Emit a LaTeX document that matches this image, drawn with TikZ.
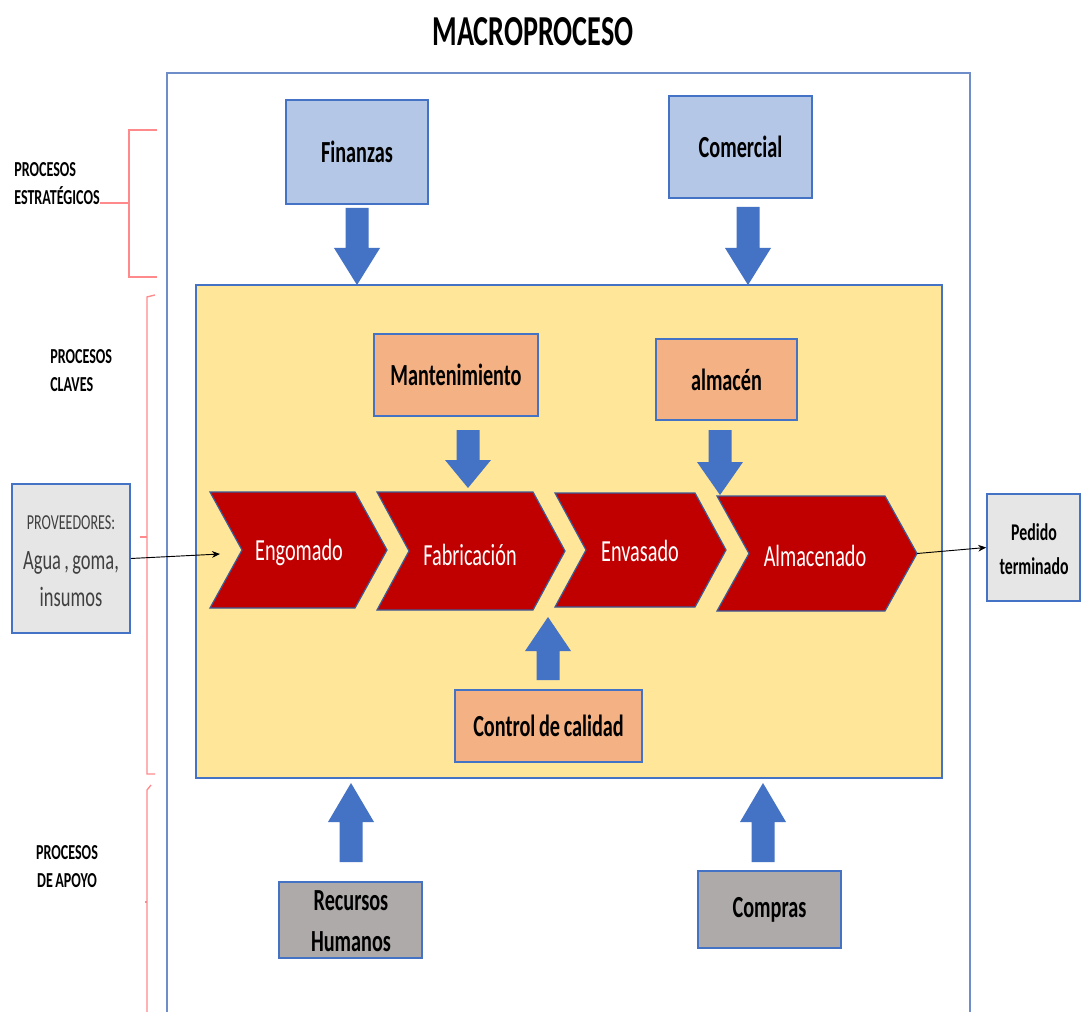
\documentclass[tikz,border=0pt]{standalone}
\usepackage{fontspec}
\setmainfont{Carlito}[FakeStretch=0.66, WordSpace=0.8]
\usetikzlibrary{fit,arrows.meta}

\definecolor{ablue}{HTML}{4472C4}
\definecolor{frameblue}{HTML}{6F8DC9}
\definecolor{lightblue}{HTML}{B4C7E7}
\definecolor{paleyellow}{HTML}{FFE699}
\definecolor{peach}{HTML}{F4B183}
\definecolor{chevred}{HTML}{C00000}
\definecolor{chevedge}{HTML}{3A5C9A}
\definecolor{midgray}{HTML}{AEAAAA}
\definecolor{lightgray}{HTML}{E7E6E6}
\definecolor{bracketred}{HTML}{FF8A8C}
\definecolor{darktext}{HTML}{404040}

% block arrow: centre x, tail y, head base y, tip y
\newcommand\blkarrow[4]{%
  \fill[blk] ({#1-11.5},#2) -- ({#1+11.5},#2) -- ({#1+11.5},#3) -- ({#1+23},#3)
    -- (#1,#4) -- ({#1-23},#3) -- ({#1-11.5},#3) -- cycle;}
% chevron: left x, corner x, tip x, top y, bottom y
\newcommand\chevshape[5]{%
  \draw[chev] (#1,#4) -- (#2,#4) -- (#3,{(#4+#5)/2}) -- (#2,#5) -- (#1,#5)
    -- ({#1+#3-#2},{(#4+#5)/2}) -- cycle;}

\begin{document}
\begin{tikzpicture}[x=0.75pt,y=-0.75pt,
  box/.style={draw=ablue, line width=1.2pt, inner sep=0pt},
  blk/.style={fill=ablue},
  chev/.style={fill=chevred, draw=chevedge, line width=0.9pt, line join=miter},
  boldlbl/.style={font=\fontsize{23}{31}\selectfont\bfseries, align=center},
  chevlbl/.style={font=\fontsize{23}{31}\selectfont, text=white},
  sidelbl/.style={font=\fontsize{16}{21}\selectfont\bfseries, align=left, inner sep=0pt},
  brk/.style={draw=bracketred, line width=1pt},
  conn/.style={draw=black, line width=0.7pt, -{Stealth[length=6pt,width=5pt]}}]

\useasboundingbox (0,0) rectangle (1081,1012);
\fill[white] (0,0) rectangle (1081,1012);

% title
\node[font=\fontsize{32}{38}\selectfont\bfseries] (title) at (533,32) {MACROPROCESO};

% outer frame, open at the bottom
\draw[frameblue, line width=1.3pt] (167,1012) -- (167,73) -- (970,73) -- (970,1012);

% side brackets
\draw[brk] (157,130) -- (129,130) -- (129,277) -- (157,277);
\draw[brk] (100,203) -- (129,203);
\draw[brk] (155,295) -- (147,297) -- (147,774) -- (155,774);
\draw[brk] (140,537) -- (147,537);
\draw[brk] (151,785) -- (147,790) -- (147,1012);
\draw[brk] (145,902) -- (147,902);

% side labels
\node[sidelbl, anchor=west] (lblest) at (14,184) {PROCESOS\\ESTRATÉGICOS};
\node[sidelbl, anchor=west] (lblcla) at (50,371) {PROCESOS\\CLAVES};
\node[sidelbl, align=center] (lblapo) at (67,867) {PROCESOS\\ DE APOYO};

% strategic processes
\node[box, fill=lightblue, fit={(286,100)(428,204)}] (fin) {};
\node[boldlbl] (fint) at (fin.center) {Finanzas};
\node[box, fill=lightblue, fit={(669,96)(812,198)}] (com) {};
\node[boldlbl] (comt) at (com.center) {Comercial};

% key processes area
\node[box, fill=paleyellow, fit={(196,285)(942,778)}] (core) {};

\blkarrow{357}{208}{248}{285}
\blkarrow{748}{207}{248}{285}

\node[box, fill=peach, fit={(374,334)(538,416)}] (mant) {};
\node[boldlbl] (mantt) at (mant.center) {Mantenimiento};
\node[box, fill=peach, fit={(656,339)(797,420)}] (almc) {};
\node[boldlbl] (almct) at (almc.center) {almacén};
\node[box, fill=peach, fit={(455,690)(642,762)}] (ctrl) {};
\node[boldlbl] (ctrlt) at (ctrl.center) {Control de calidad};

% process chain
\chevshape{377}{533}{565}{492}{610}
\chevshape{210}{355}{387}{492}{608}
\chevshape{555}{695}{726}{493}{607}
\chevshape{717}{885}{917}{496}{611}

\blkarrow{468}{430}{460}{488}
\blkarrow{720}{430}{462}{495}
\blkarrow{548}{680}{651}{617}

\node[chevlbl] (eng) at (299,552) {Engomado};
\node[chevlbl] (fab) at (470,555) {Fabricación};
\node[chevlbl] (env) at (640,551) {Envasado};
\node[chevlbl] (alm) at (815,556) {Almacenado};

% support processes
\blkarrow{351}{862}{822}{783}
\blkarrow{763}{862}{822}{783}
\node[box, fill=midgray, fit={(279,882)(422,958)}] (rrhh) {};
\node[font=\fontsize{23}{31}\selectfont\bfseries, align=center] (rrhht) at (351,921) {Recursos\\Humanos};
\node[box, fill=midgray, fit={(698,871)(841,948)}] (comp) {};
\node[boldlbl] (compt) at (comp.center) {Compras};

% inputs and outputs
\node[box, fill=lightgray, fit={(12,484)(130,633)}] (prov) {};
\node[font=\fontsize{16}{20}\selectfont, text=darktext] (provt) at (71,523) {PROVEEDORES:};
\node[font=\fontsize{21}{28}\selectfont, text=darktext, align=center] (provi) at (71,579) {Agua , goma,\\insumos};

\node[box, fill=lightgray, fit={(987,494)(1080,601)}] (ped) {};
\node[font=\fontsize{18}{25.5}\selectfont\bfseries, align=center] (pedt) at (1034,549) {Pedido\\terminado};

\coordinate (engin) at (220,554);
\coordinate (almout) at (917,553.5);
\draw[conn] (prov.east) -- (engin);
\draw[conn] (almout) -- (ped.west);

\end{tikzpicture}
\end{document}
